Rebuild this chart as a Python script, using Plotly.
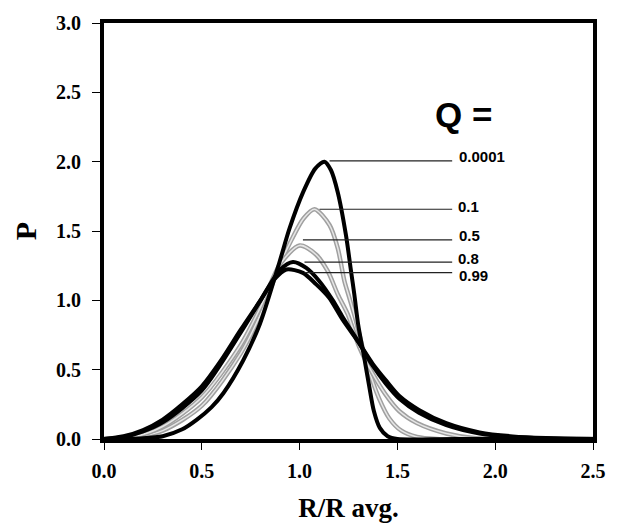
import plotly.graph_objects as go

# Size distributions P(R/R avg.) for several values of Q
x_q0001 = [0.0, 0.2, 0.3, 0.4, 0.475, 0.55, 0.61, 0.712, 0.797, 0.898, 0.949, 1.018, 1.08, 1.127,
           1.16, 1.195, 1.237, 1.263, 1.28, 1.30, 1.33, 1.356, 1.38, 1.41, 1.45, 1.5, 1.8, 2.5]
y_q0001 = [0.0, 0.005, 0.02, 0.07, 0.14, 0.23, 0.33, 0.568, 0.83, 1.28, 1.52, 1.78, 1.95, 2.0,
           1.94, 1.78, 1.47, 1.21, 1.04, 0.82, 0.59, 0.38, 0.2, 0.08, 0.02, 0.0, 0.0, 0.0]

x_q01 = [0.0, 0.15, 0.3, 0.5, 0.7, 0.8, 0.9, 0.96, 1.02, 1.076, 1.153, 1.195, 1.229, 1.254,
         1.288, 1.33, 1.365, 1.407, 1.458, 1.52, 1.6, 1.7, 2.5]
y_q01 = [0.0, 0.01, 0.06, 0.24, 0.62, 0.9, 1.26, 1.44, 1.59, 1.657, 1.543, 1.377, 1.14, 1.02,
         0.854, 0.616, 0.45, 0.29, 0.15, 0.06, 0.015, 0.0, 0.0]

x_q05 = [0.0, 0.15, 0.3, 0.5, 0.7, 0.8, 0.9, 1.0, 1.085, 1.144, 1.196, 1.246, 1.305, 1.373,
         1.44, 1.51, 1.6, 1.75, 1.9, 2.5]
y_q05 = [0.0, 0.015, 0.09, 0.30, 0.68, 0.95, 1.26, 1.396, 1.329, 1.21, 1.04, 0.90, 0.663, 0.473,
         0.32, 0.2, 0.115, 0.04, 0.005, 0.0]

x_q08 = [0.0, 0.1, 0.2, 0.3, 0.5, 0.7, 0.8, 0.9, 0.966, 1.034, 1.10, 1.17, 1.22, 1.305, 1.373,
         1.44, 1.51, 1.61, 1.75, 1.92, 2.09, 2.3, 2.5]
y_q08 = [0.0, 0.015, 0.055, 0.12, 0.35, 0.77, 1.0, 1.22, 1.277, 1.234, 1.14, 1.0, 0.88, 0.69, 0.53,
         0.40, 0.29, 0.19, 0.10, 0.04, 0.014, 0.003, 0.0]

x_q099 = [0.0, 0.1, 0.2, 0.3, 0.4, 0.5, 0.6, 0.7, 0.8, 0.87, 0.932, 1.017, 1.085, 1.15, 1.22, 1.305,
          1.373, 1.44, 1.51, 1.61, 1.75, 1.92, 2.09, 2.26, 2.5]
y_q099 = [0.0, 0.02, 0.065, 0.14, 0.25, 0.38, 0.57, 0.79, 1.0, 1.15, 1.222, 1.198, 1.115, 1.02, 0.86,
          0.69, 0.544, 0.425, 0.31, 0.21, 0.114, 0.048, 0.019, 0.007, 0.0]

# Leader lines to the Q labels
q_labels = ["0.0001", "0.1", "0.5", "0.8", "0.99"]
leader_y = [2.006, 1.657, 1.436, 1.275, 1.200]
leader_x0 = [1.153, 1.102, 1.017, 1.025, 1.025]
leader_x1 = [1.78, 1.78, 1.78, 1.78, 1.78]
label_x = [1.81, 1.805, 1.81, 1.805, 1.81]
label_y = [2.04, 1.674, 1.467, 1.305, 1.176]

x_ticks = [0.0, 0.5, 1.0, 1.5, 2.0, 2.5]
y_ticks = [0.0, 0.5, 1.0, 1.5, 2.0, 2.5, 3.0]

fig = go.Figure()

gray_curves = [(x_q01, y_q01), (x_q05, y_q05)]
black_curves = [(x_q099, y_q099), (x_q08, y_q08), (x_q0001, y_q0001)]

for xs, ys in gray_curves:
    fig.add_trace(go.Scatter(x=xs, y=ys, mode="lines", line=dict(color="#a0a0a0", width=4.5, shape="spline", smoothing=0.8),
                             hoverinfo="skip", showlegend=False))
    fig.add_trace(go.Scatter(x=xs, y=ys, mode="lines", line=dict(color="#e6e6e6", width=1.5, shape="spline", smoothing=0.8),
                             hoverinfo="skip", showlegend=False))

for xs, ys in black_curves:
    fig.add_trace(go.Scatter(x=xs, y=ys, mode="lines", line=dict(color="black", width=4, shape="spline", smoothing=0.8),
                             hoverinfo="skip", showlegend=False))

for y, x0, x1 in zip(leader_y, leader_x0, leader_x1):
    fig.add_shape(type="line", x0=x0, x1=x1, y0=y, y1=y, xref="x", yref="y",
                  line=dict(color="#222222", width=1.2))

for txt, lx, ly in zip(q_labels, label_x, label_y):
    fig.add_annotation(x=lx, y=ly, text=txt, showarrow=False, xanchor="left", yanchor="middle",
                       borderpad=0, font=dict(family="Arial, Liberation Sans", size=15, color="black", weight="bold"))

fig.add_annotation(x=1.84, y=2.34, text="Q =", showarrow=False, xanchor="center", yanchor="middle",
                   font=dict(family="Arial, Liberation Sans", size=35, color="black", weight="bold"))

serif = "Times New Roman, Liberation Serif"
fig.update_xaxes(range=[0, 2.5], tickvals=x_ticks, ticktext=[f"{v:.1f}" for v in x_ticks],
                 ticks="outside", ticklen=7, tickwidth=1, tickcolor="black", ticklabelstandoff=4,
                 showline=True, linewidth=4, linecolor="black", mirror=True,
                 showgrid=False, zeroline=False,
                 tickfont=dict(family=serif, size=20, color="black", weight="bold"),
                 title=dict(text="R/R avg.", font=dict(family=serif, size=27, color="black", weight="bold"), standoff=18))
fig.update_yaxes(range=[0, 3.0], tickvals=y_ticks, ticktext=[f"{v:.1f}" for v in y_ticks],
                 ticks="outside", ticklen=8, tickwidth=1, tickcolor="black", ticklabelstandoff=7,
                 showline=True, linewidth=4, linecolor="black", mirror=True,
                 showgrid=False, zeroline=False,
                 tickfont=dict(family=serif, size=20, color="black", weight="bold"),
                 title=dict(text="P", font=dict(family=serif, size=30, color="black", weight="bold"), standoff=12))

fig.update_layout(width=618, height=531, margin=dict(l=104, r=23, t=22, b=88),
                  plot_bgcolor="white", paper_bgcolor="white", showlegend=False)

fig.write_html("out.html")
